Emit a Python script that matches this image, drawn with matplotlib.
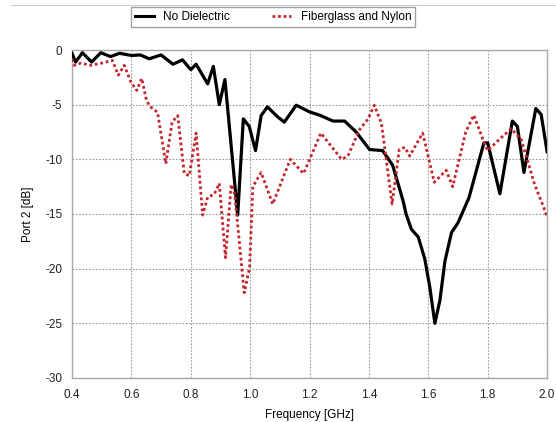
import numpy as np
import matplotlib
matplotlib.use('Agg')
import matplotlib.pyplot as plt
from matplotlib.lines import Line2D

# Port 2 response, no dielectric
nd_freq = [0.400, 0.412, 0.435, 0.466, 0.497, 0.530, 0.560, 0.600, 0.630, 0.660,
           0.700, 0.740, 0.772, 0.800, 0.818, 0.857, 0.876, 0.896, 0.915, 0.958,
           0.977, 0.997, 1.018, 1.037, 1.058, 1.092, 1.115, 1.155, 1.200, 1.234,
           1.279, 1.318, 1.357, 1.402, 1.446, 1.480, 1.515, 1.525, 1.543, 1.566,
           1.588, 1.605, 1.622, 1.639, 1.656, 1.678, 1.700, 1.737, 1.787, 1.800,
           1.841, 1.883, 1.900, 1.922, 1.962, 1.980, 2.000]
nd_db = [-0.3, -1.1, -0.25, -1.1, -0.25, -0.6, -0.3, -0.5, -0.45, -0.8,
         -0.45, -1.3, -0.9, -1.8, -1.3, -3.1, -1.5, -5.0, -2.7, -15.1,
         -6.3, -7.0, -9.2, -6.0, -5.2, -6.1, -6.6, -5.05, -5.66, -5.96,
         -6.5, -6.5, -7.5, -9.1, -9.2, -10.55, -13.8, -15.0, -16.4, -17.1,
         -19.1, -21.7, -25.0, -22.9, -19.3, -16.7, -15.8, -13.5, -8.5, -8.5,
         -13.15, -6.5, -7.0, -11.2, -5.35, -5.9, -9.3]

# Port 2 response, fiberglass and nylon
fn_freq = [0.400, 0.407, 0.430, 0.463, 0.500, 0.536, 0.556, 0.576, 0.598, 0.618,
           0.635, 0.649, 0.660, 0.688, 0.716, 0.737, 0.756, 0.778, 0.795, 0.818,
           0.840, 0.857, 0.879, 0.896, 0.917, 0.936, 0.948, 0.980, 0.998, 1.009,
           1.037, 1.076, 1.135, 1.180, 1.238, 1.308, 1.329, 1.368, 1.397, 1.418,
           1.442, 1.478, 1.502, 1.521, 1.537, 1.581, 1.620, 1.660, 1.682, 1.726,
           1.753, 1.787, 1.800, 1.842, 1.879, 1.913, 1.958, 1.990, 2.000]
fn_db = [-0.85, -1.4, -1.2, -1.4, -1.2, -0.95, -2.3, -1.4, -2.9, -3.7,
         -2.6, -4.4, -5.1, -5.7, -10.4, -6.6, -6.0, -11.3, -11.5, -7.6,
         -15.1, -13.45, -13.2, -12.2, -19.0, -12.3, -13.2, -22.2, -19.9, -12.5,
         -11.2, -14.1, -10.0, -11.3, -7.6, -10.0, -9.7, -7.3, -6.3, -5.05,
         -6.7, -14.1, -9.1, -8.9, -9.7, -7.6, -12.1, -11.0, -12.5, -7.5,
         -5.96, -8.4, -9.2, -8.1, -7.2, -8.2, -12.3, -14.5, -15.3]

x_ticks = [0.4, 0.6, 0.8, 1.0, 1.2, 1.4, 1.6, 1.8, 2.0]
y_ticks = [0, -5, -10, -15, -20, -25, -30]

plt.rcParams['font.family'] = ['Liberation Sans', 'DejaVu Sans']
plt.rcParams['axes.unicode_minus'] = False

fig = plt.figure(figsize=(5.56, 4.22), dpi=100)
ax = fig.add_axes([0.1295, 0.1043, 0.8545, 0.7772])

ax.plot(nd_freq, nd_db, color='black', lw=2.3, solid_joinstyle='round',
        label='No Dielectric', zorder=3)
ax.plot(fn_freq, fn_db, color='#c4262e', lw=2.0, ls=(0, (1, 1)),
        label='Fiberglass and Nylon', zorder=3)

ax.set_xlim(0.4, 2.0)
ax.set_ylim(-30, 0)
ax.set_xticks(x_ticks)
ax.set_yticks(y_ticks)
ax.set_xticklabels(['%.1f' % v for v in x_ticks])
ax.set_yticklabels([str(v) for v in y_ticks])
ax.tick_params(length=0, labelsize=8.5, colors='#222222')
ax.tick_params(axis='x', pad=8)
ax.tick_params(axis='y', pad=7)

ax.grid(True, color='#999999', ls=(0, (1.5, 1.5)), lw=0.8)
for s in ax.spines.values():
    s.set_color('#aaaaaa')
    s.set_linewidth(1.0)

ax.set_xlabel('Frequency [GHz]', fontsize=8.5, labelpad=6)
ax.set_ylabel('Port 2 [dB]', fontsize=8.5, labelpad=8)

handles = [Line2D([], [], color='black', lw=2.2),
           Line2D([], [], color='#c4262e', lw=2.0, ls=(0, (1, 1)))]
leg = fig.legend(handles, ['No Dielectric', 'Fiberglass and Nylon'],
                 loc='center', bbox_to_anchor=(0.491, 0.959), ncol=2,
                 fontsize=8.5, frameon=True, fancybox=False,
                 handlelength=1.6, columnspacing=3.6, borderpad=0.35,
                 handletextpad=0.8)
leg.get_frame().set_edgecolor('#888888')
leg.get_frame().set_linewidth(1.0)

# thin rule along the top edge
fig.add_artist(Line2D([0.02, 1.0], [0.988, 0.988], color='#cccccc', lw=0.8,
                      transform=fig.transFigure))

fig.savefig('out.png', dpi=100)
